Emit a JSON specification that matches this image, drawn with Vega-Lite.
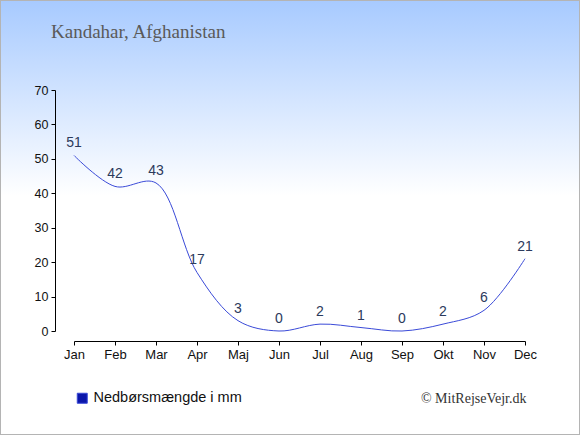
{
  "$schema": "https://vega.github.io/schema/vega-lite/v6.json",
  "width": 580,
  "height": 435,
  "autosize": {"type": "none"},
  "padding": 0,
  "background": "white",
  "title": {
    "text": "Kandahar, Afghanistan",
    "anchor": "start",
    "frame": "group",
    "dx": 51,
    "dy": 46,
    "font": "Liberation Serif",
    "fontSize": 19,
    "fontWeight": "normal",
    "color": "#5a5a5a"
  },
  "data": {
    "values": [
      {"month": "Jan", "mm": 51},
      {"month": "Feb", "mm": 42},
      {"month": "Mar", "mm": 43},
      {"month": "Apr", "mm": 17},
      {"month": "Maj", "mm": 3},
      {"month": "Jun", "mm": 0},
      {"month": "Jul", "mm": 2},
      {"month": "Aug", "mm": 1},
      {"month": "Sep", "mm": 0},
      {"month": "Okt", "mm": 2},
      {"month": "Nov", "mm": 6},
      {"month": "Dec", "mm": 21}
    ]
  },
  "encoding": {
    "x": {
      "field": "month",
      "type": "ordinal",
      "sort": null,
      "scale": {"type": "point", "range": [74, 525], "padding": 0},
      "axis": {
        "orient": "bottom",
        "offset": -94,
        "labelAngle": 0,
        "labelFont": "Liberation Sans",
        "labelFontSize": 13,
        "labelColor": "#111",
        "labelPadding": 3,
        "domainColor": "#000",
        "tickColor": "#000",
        "tickSize": 4,
        "grid": false,
        "title": "© MitRejseVejr.dk",
        "titleX": 526,
        "titleY": 61,
        "titleAlign": "right",
        "titleBaseline": "alphabetic",
        "titleFont": "Liberation Serif",
        "titleFontSize": 14,
        "titleFontWeight": "normal",
        "titleColor": "#333"
      }
    },
    "y": {
      "field": "mm",
      "type": "quantitative",
      "scale": {"domain": [0, 70], "range": [331, 90], "nice": false, "zero": true},
      "axis": {
        "orient": "left",
        "offset": -55,
        "values": [0, 10, 20, 30, 40, 50, 60, 70],
        "labelFont": "Liberation Sans",
        "labelFontSize": 12.5,
        "labelColor": "#111",
        "labelPadding": 3,
        "domainColor": "#000",
        "tickColor": "#000",
        "tickSize": 4,
        "grid": false,
        "title": null
      }
    }
  },
  "layer": [
    {
      "mark": {"type": "line", "interpolate": "catmull-rom", "strokeWidth": 1},
      "encoding": {
        "color": {
          "datum": "Nedbørsmængde i mm",
          "type": "nominal",
          "scale": {"range": ["#3a4ad8"]},
          "legend": {
            "title": null,
            "orient": "none",
            "legendX": 75,
            "legendY": 391,
            "symbolType": "square",
            "symbolSize": 100,
            "labelFont": "Liberation Sans",
            "labelFontSize": 14.5,
            "labelColor": "#111",
            "labelOffset": 4,
            "encode": {
              "symbols": {
                "update": {
                  "fill": {"value": "#0b16aa"},
                  "stroke": {"value": "#9aa6e0"},
                  "strokeWidth": {"value": 1}
                }
              }
            }
          }
        }
      }
    },
    {
      "mark": {
        "type": "text",
        "baseline": "alphabetic",
        "dy": -8,
        "font": "Liberation Sans",
        "fontSize": 14,
        "color": "#2c3a5c"
      },
      "encoding": {
        "text": {"field": "mm", "type": "quantitative"}
      }
    }
  ],
  "config": {
    "view": {
      "fill": {
        "gradient": "linear",
        "x1": 0, "y1": 0, "x2": 0, "y2": 1,
        "stops": [
          {"offset": 0, "color": "#a7caff"},
          {"offset": 0.45, "color": "#ffffff"},
          {"offset": 1, "color": "#ffffff"}
        ]
      },
      "stroke": "#b4b4b4",
      "strokeWidth": 2
    }
  }
}
